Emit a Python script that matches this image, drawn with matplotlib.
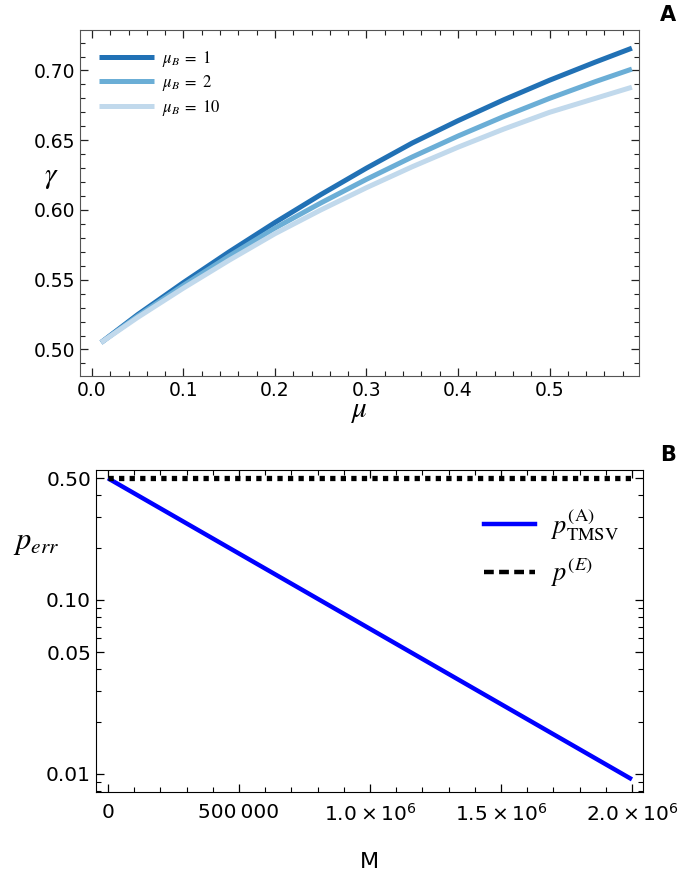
import matplotlib
matplotlib.use("Agg")
import numpy as np
import matplotlib.pyplot as plt
from matplotlib.lines import Line2D
from matplotlib.ticker import MultipleLocator, FixedLocator, NullFormatter

plt.rcParams['mathtext.fontset'] = 'stix'
plt.rcParams['font.family'] = 'DejaVu Sans'

# panel A data
mu = [0.01, 0.05, 0.10, 0.15, 0.20, 0.25, 0.30, 0.35, 0.40, 0.45, 0.50, 0.55, 0.59]
gamma_b1 = [0.505, 0.525, 0.548, 0.570, 0.591, 0.611, 0.630, 0.648, 0.664, 0.679, 0.693, 0.706, 0.716]
gamma_b2 = [0.505, 0.524, 0.546, 0.567, 0.587, 0.605, 0.622, 0.638, 0.653, 0.667, 0.680, 0.692, 0.701]
gamma_b10 = [0.505, 0.523, 0.544, 0.564, 0.583, 0.600, 0.616, 0.631, 0.645, 0.658, 0.670, 0.680, 0.688]

# panel B data
M = [0, 2.0e6]
p_tmsv = [0.5, 0.0093]
p_E = [0.5, 0.5]

fig = plt.figure(figsize=(6.99, 8.75), dpi=100)

# ---- A ----
ax1 = fig.add_axes([0.1145, 0.5703, 0.80, 0.3954])
kw = dict(lw=3.6, solid_capstyle='butt', solid_joinstyle='round')
ax1.plot(mu, gamma_b1, color='#2171b5', label=r'$\mu_B\;=\;1$', **kw)
ax1.plot(mu, gamma_b2, color='#6baed6', label=r'$\mu_B\;=\;2$', **kw)
ax1.plot(mu, gamma_b10, color='#c1d9ec', label=r'$\mu_B\;=\;10$', **kw)
ax1.set_xlim(-0.013, 0.598)
ax1.set_ylim(0.481, 0.729)
ax1.xaxis.set_major_locator(MultipleLocator(0.1))
ax1.xaxis.set_minor_locator(MultipleLocator(0.02))
ax1.yaxis.set_major_locator(MultipleLocator(0.05))
ax1.yaxis.set_minor_locator(MultipleLocator(0.01))
ax1.xaxis.set_major_formatter(plt.FuncFormatter(lambda v, p: '%.1f' % v))
ax1.yaxis.set_major_formatter(plt.FuncFormatter(lambda v, p: '%.2f' % v))
ax1.tick_params(which='both', direction='in', top=True, right=True, labelsize=13.5, colors='#222222', labelcolor='black')
ax1.tick_params(which='major', length=6, width=0.9)
ax1.tick_params(which='minor', length=3.5, width=0.8)
for s in ax1.spines.values():
    s.set_color('#555555')
ax1.legend(loc='upper left', frameon=False, fontsize=12, handlelength=3.3,
           borderaxespad=0.4, labelspacing=0.28, handletextpad=0.5,
           bbox_to_anchor=(0.01, 0.985))
ax1.text(0.5, -0.062, r'$\mu$', transform=ax1.transAxes, fontsize=21, ha='center', va='top')
ax1.text(-0.052, 0.576, r'$\gamma$', transform=ax1.transAxes, fontsize=21, ha='center', va='center')
fig.text(0.956, 0.983, 'A', fontsize=15, fontweight='bold', ha='center', va='center')

# ---- B ----
ax2 = fig.add_axes([0.1373, 0.0952, 0.7825, 0.3677])
ax2.plot(M, p_tmsv, color='#0000ff', lw=3.2, solid_capstyle='butt')
ax2.plot(M, p_E, color='black', lw=3.8, linestyle=(0, (1, 1)), dash_capstyle='butt')
ax2.set_yscale('log')
ax2.set_xlim(-45800, 2.042e6)
ax2.set_ylim(0.0079, 0.558)
ax2.yaxis.set_major_locator(FixedLocator([0.5, 0.1, 0.05, 0.01]))
ax2.set_yticklabels(['0.50', '0.10', '0.05', '0.01'])
ax2.yaxis.set_minor_locator(FixedLocator([0.4, 0.3, 0.2, 0.09, 0.08, 0.07, 0.06,
                                          0.04, 0.03, 0.02, 0.009, 0.008]))
ax2.yaxis.set_minor_formatter(NullFormatter())
ax2.set_xticks([0, 5e5, 1e6, 1.5e6, 2e6])
ax2.set_xticklabels(['0', '500\u2009000', '1.0\u2009\u00d7\u200910$^{6}$',
                     '1.5\u2009\u00d7\u200910$^{6}$', '2.0\u2009\u00d7\u200910$^{6}$'])
ax2.xaxis.set_minor_locator(MultipleLocator(1e5))
for lab in ax2.get_xticklabels():
    lab.set_math_fontfamily('dejavusans')
ax2.tick_params(which='both', direction='in', top=True, right=True, labelsize=14.5, labelcolor='black')
ax2.tick_params(axis='x', which='major', pad=8)
ax2.tick_params(which='major', length=6, width=0.9)
ax2.tick_params(which='minor', length=3.5, width=0.8)
handles = [Line2D([0], [0], color='#0000ff', lw=3.2),
           Line2D([0], [0], color='black', lw=3.2, linestyle=(0, (2.2, 1.2)))]
ax2.legend(handles, [r'$p^{(\mathrm{A})}_{\mathrm{TMSV}}$', r'$p^{(E)}$'], loc='upper right',
           frameon=False, fontsize=19, handlelength=1.95, labelspacing=0.55,
           handletextpad=0.6, bbox_to_anchor=(1.0, 0.958))
ax2.text(0.5, -0.22, 'M', transform=ax2.transAxes, fontsize=16, ha='center', va='center')
ax2.text(-0.11, 0.775, r'$p_{err}$', transform=ax2.transAxes, fontsize=22, ha='center', va='center')
fig.text(0.956, 0.48, 'B', fontsize=15, fontweight='bold', ha='center', va='center')

fig.savefig('out.png', dpi=100)
